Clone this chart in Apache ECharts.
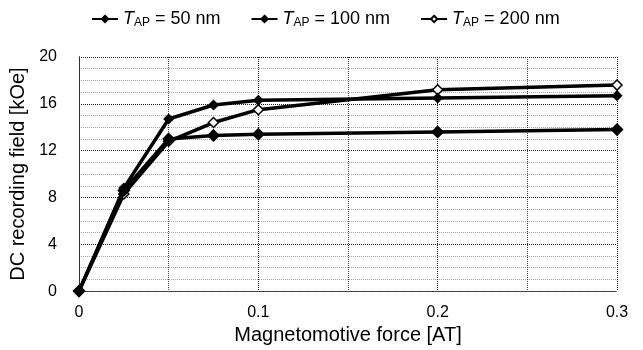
<!DOCTYPE html>
<html><head><meta charset="utf-8">
<script src="https://cdn.jsdelivr.net/npm/echarts@6/dist/echarts.min.js"></script>
<style>html,body{margin:0;padding:0;background:#fff}#c{width:643px;height:350px}</style>
</head><body><div id="c"></div>
<script>
var xValues = [0, 0.025, 0.05, 0.075, 0.1, 0.2, 0.3];
var seriesNames = ['50 nm', '100 nm', '200 nm'];
var t50 = [0, 8.6, 13.0, 13.3, 13.4, 13.6, 13.8];
var t100 = [0, 8.8, 14.7, 15.9, 16.3, 16.5, 16.7];
var t200 = [0, 8.3, 12.8, 14.4, 15.5, 17.2, 17.6];
var yTicks = [0, 4, 8, 12, 16, 20];
var xTicks = [0, 0.1, 0.2, 0.3];

function pairs(ys){ return xValues.map(function(x,i){ return [x, ys[i]]; }); }
var font = 'Liberation Sans, Arial, sans-serif';
var chart = echarts.init(document.getElementById('c'));
var mk = [
  {sym:'diamond', size:11, fill:'#000'},
  {sym:'diamond', size:9, fill:'#000'},
  {sym:'diamond', size:10, fill:'#fff'}
];
var data = [t50, t100, t200];
var borderLine = {show:true, lineStyle:{color:'#333', type:'dotted', width:1}};
chart.setOption({
  animation:false,
  backgroundColor:'#fff',
  legend:{
    top:5, left:86, itemGap:30, itemWidth:26, itemHeight:8,
    lineStyle:{width:2},
    textStyle:{fontFamily:font, fontSize:18, color:'#000',
      rich:{
        i:{fontFamily:font, fontSize:18, fontStyle:'italic', color:'#000'},
        s:{fontFamily:font, fontSize:12, color:'#000', padding:[8,0,0,0]},
        n:{fontFamily:font, fontSize:18, color:'#000'}
      }},
    formatter:function(name){ return '{i|T}{s|AP}{n| = ' + name + '}'; },
    data:seriesNames
  },
  grid:{left:79, right:26, top:57, bottom:58},
  xAxis:[{
    type:'value', min:0, max:0.3, interval:0.1,
    name:'Magnetomotive force [AT]', nameLocation:'middle', nameGap:31,
    nameTextStyle:{fontFamily:font, fontSize:20, color:'#000'},
    axisLine:borderLine,
    axisTick:{show:false},
    axisLabel:{fontFamily:font, fontSize:16, color:'#000', margin:13,
      formatter:function(v){ return xTicks.indexOf(Math.round(v*10)/10)>=0 ? String(Math.round(v*10)/10) : ''; }},
    splitLine:{show:true, lineStyle:{color:'#222', type:'dotted', width:1}},
    minorTick:{show:false, splitNumber:2},
    minorSplitLine:{show:true, lineStyle:{color:'#444', type:'dotted', width:1}}
  },{
    type:'value', position:'top', min:0, max:0.3, interval:0.1,
    axisLine:borderLine, axisTick:{show:false}, axisLabel:{show:false}, splitLine:{show:false}
  }],
  yAxis:[{
    type:'value', min:0, max:20, interval:4,
    name:'DC recording field [kOe]', nameLocation:'middle', nameGap:44,
    nameTextStyle:{fontFamily:font, fontSize:20, color:'#000'},
    axisLine:borderLine,
    axisTick:{show:false},
    axisLabel:{fontFamily:font, fontSize:16, color:'#000', margin:22,
      formatter:function(v){ return yTicks.indexOf(v)>=0 ? String(v) : ''; }},
    splitLine:{show:true, lineStyle:{color:'#222', type:'dotted', width:1}},
    minorTick:{show:false, splitNumber:4},
    minorSplitLine:{show:true, lineStyle:{color:'#aaa', type:'dotted', width:1}}
  },{
    type:'value', position:'right', min:0, max:20, interval:4,
    axisLine:borderLine, axisTick:{show:false}, axisLabel:{show:false}, splitLine:{show:false}
  }],
  series: seriesNames.map(function(n,i){
    return {
      name:n, type:'line', data:pairs(data[i]),
      symbol:mk[i].sym, symbolSize:mk[i].size, showAllSymbol:true,
      lineStyle:{color:'#000', width:3.5},
      itemStyle:{color:mk[i].fill, borderColor:'#000', borderWidth:1.5},
      z: 3-i
    };
  })
});
</script></body></html>
